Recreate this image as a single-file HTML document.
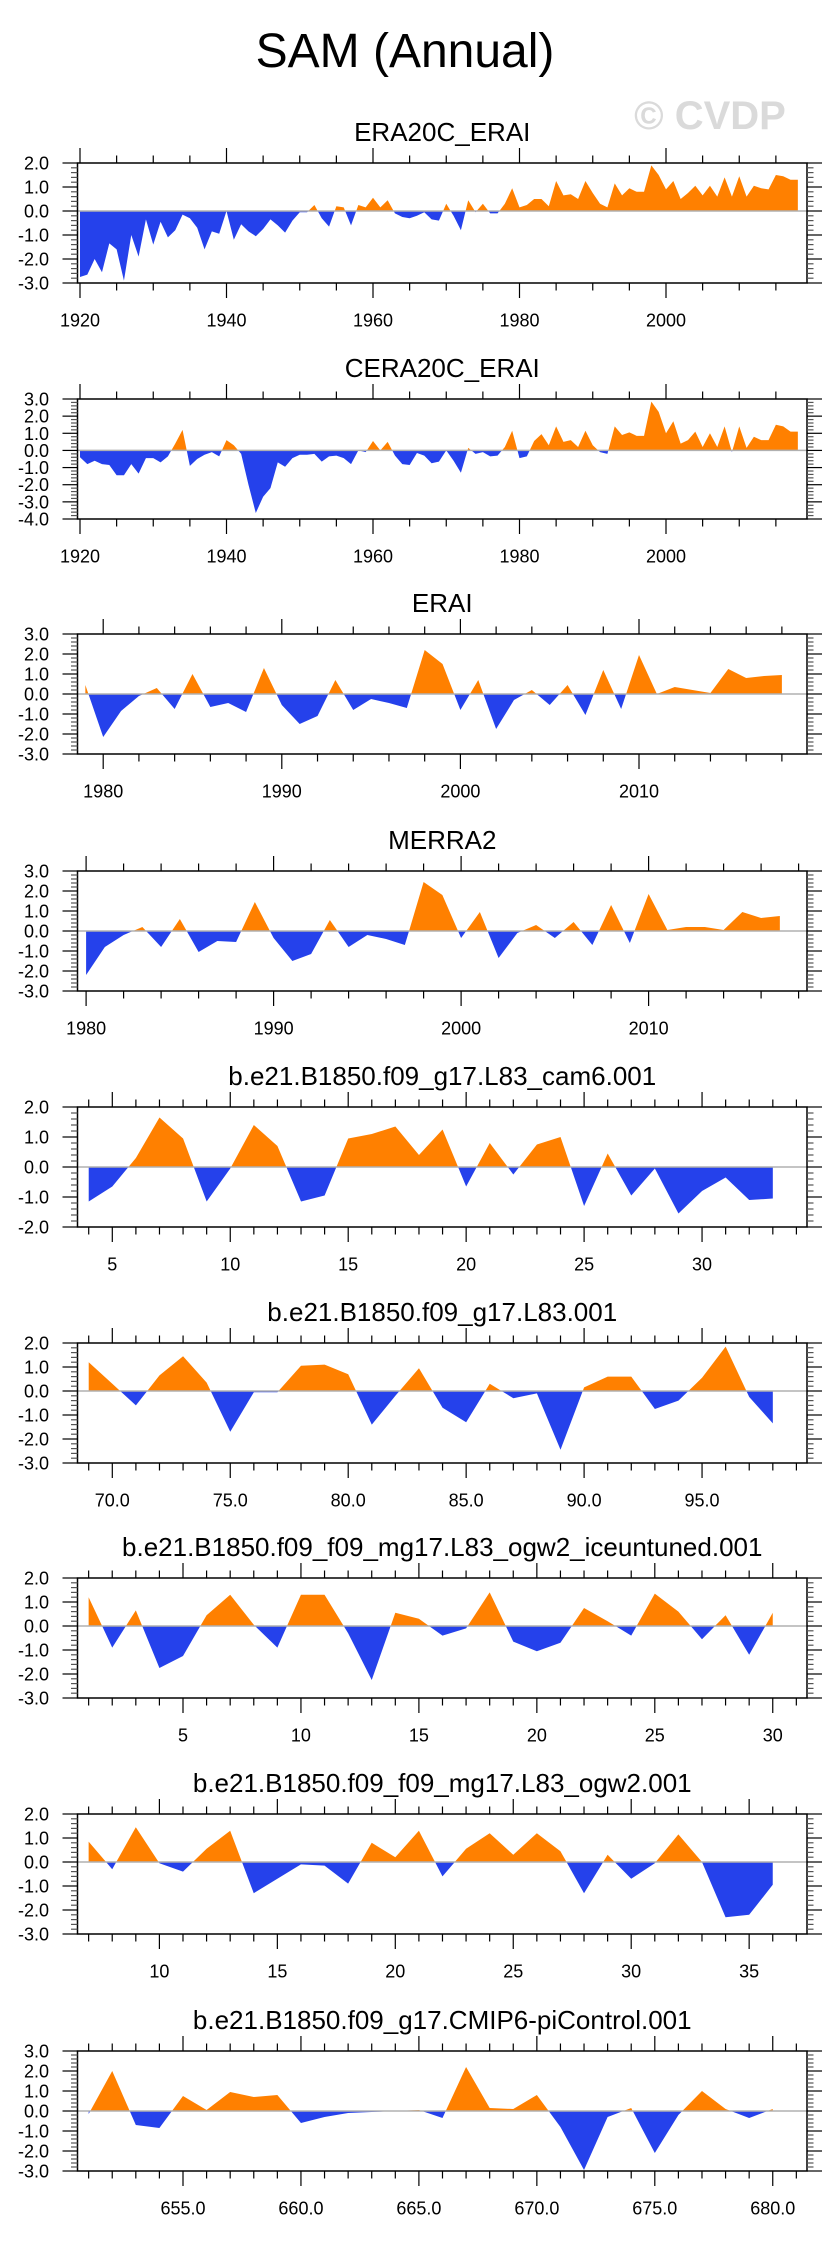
<!DOCTYPE html>
<html>
<head>
<meta charset="utf-8">
<style>
  html,body{margin:0;padding:0;background:#fff;}
  svg{display:block;font-family:"Liberation Sans",sans-serif;}
</style>
</head>
<body>
<svg id="fig" width="829" height="2245" viewBox="0 0 829 2245" xmlns="http://www.w3.org/2000/svg">
  <rect x="0" y="0" width="829" height="2245" fill="#fff"/>
  <text x="405" y="67" font-size="48" text-anchor="middle" fill="#000">SAM (Annual)</text>
  <text x="710" y="129" font-size="40" font-weight="bold" text-anchor="middle" fill="#dadada">© CVDP</text>
</svg>
<script>
// ---------------- data ----------------
const era20cStart = 1920;
const era20cValues = [-2.75,-2.65,-2.0,-2.55,-1.35,-1.6,-2.9,-1.0,-1.9,-0.35,-1.4,-0.45,-1.1,-0.8,-0.15,-0.3,-0.7,-1.6,-0.85,-0.95,
  0.0,-1.2,-0.55,-0.85,-1.05,-0.75,-0.35,-0.6,-0.9,-0.4,-0.05,-0.05,0.25,-0.3,-0.65,0.2,0.15,-0.6,0.25,0.15,
  0.55,0.15,0.45,-0.1,-0.25,-0.3,-0.2,-0.05,-0.35,-0.4,0.3,-0.2,-0.8,0.45,-0.05,0.3,-0.1,-0.1,0.3,0.95,
  0.15,0.25,0.5,0.5,0.2,1.25,0.65,0.7,0.5,1.25,0.75,0.3,0.15,1.15,0.65,0.95,0.8,0.8,1.9,1.5,
  0.9,1.25,0.5,0.75,1.05,0.65,1.05,0.6,1.4,0.6,1.45,0.6,1.05,0.95,0.9,1.5,1.45,1.3,1.3];
const cera20cStart = 1920;
const cera20cValues = [-0.4,-0.8,-0.6,-0.8,-0.85,-1.45,-1.45,-0.8,-1.35,-0.45,-0.45,-0.7,-0.35,0.4,1.2,-0.9,-0.5,-0.25,-0.1,-0.35,
  0.6,0.3,-0.2,-2.0,-3.65,-2.7,-2.2,-0.7,-0.95,-0.45,-0.25,-0.25,-0.2,-0.65,-0.35,-0.3,-0.45,-0.8,0.0,-0.1,
  0.55,0.0,0.5,-0.3,-0.8,-0.85,-0.15,-0.3,-0.75,-0.65,0.0,-0.6,-1.3,0.15,-0.2,-0.1,-0.35,-0.3,0.2,1.15,
  -0.45,-0.35,0.55,0.95,0.3,1.4,0.5,0.6,0.2,1.15,0.3,-0.1,-0.2,1.4,0.9,1.05,0.85,0.85,2.85,2.25,
  1.0,1.7,0.4,0.6,1.1,0.2,1.0,0.2,1.4,-0.1,1.4,0.15,0.8,0.6,0.6,1.5,1.4,1.1,1.1];
const eraiStart = 1979;
const eraiValues = [0.45,-2.15,-0.85,-0.1,0.3,-0.75,1.0,-0.65,-0.45,-0.9,1.3,-0.55,-1.5,-1.1,0.7,-0.8,-0.25,-0.45,-0.7,2.2,
  1.5,-0.8,0.7,-1.75,-0.3,0.2,-0.55,0.45,-1.05,1.2,-0.75,1.95,0.0,0.35,0.2,0.05,1.25,0.8,0.9,0.95];
const merra2Start = 1980;
const merra2Values = [-2.2,-0.8,-0.2,0.2,-0.8,0.6,-1.05,-0.5,-0.55,1.45,-0.35,-1.5,-1.15,0.55,-0.8,-0.2,-0.4,-0.7,2.45,1.8,
  -0.35,0.95,-1.35,-0.1,0.3,-0.35,0.45,-0.7,1.3,-0.6,1.85,0.05,0.2,0.2,0.05,0.95,0.65,0.75];
const cam6Start = 4;
const cam6Values = [-1.15,-0.65,0.3,1.65,0.95,-1.15,-0.05,1.4,0.7,-1.15,-0.95,0.95,1.1,1.35,0.4,1.25,-0.65,0.8,-0.25,0.75,
  1.0,-1.3,0.45,-0.95,-0.05,-1.55,-0.8,-0.35,-1.1,-1.05];
const l83Start = 69;
const l83Values = [1.2,0.3,-0.6,0.65,1.45,0.35,-1.7,-0.05,-0.05,1.05,1.1,0.7,-1.4,-0.2,0.95,-0.7,-1.3,0.3,-0.3,-0.1,
  -2.45,0.15,0.6,0.6,-0.75,-0.4,0.55,1.85,-0.25,-1.35];
const iceStart = 1;
const iceValues = [1.2,-0.9,0.65,-1.75,-1.25,0.45,1.3,0.05,-0.9,1.3,1.3,-0.3,-2.25,0.55,0.3,-0.4,-0.1,1.4,-0.65,-1.05,
  -0.7,0.75,0.2,-0.4,1.35,0.6,-0.55,0.45,-1.2,0.55];
const ogw2Start = 7;
const ogw2Values = [0.85,-0.3,1.45,-0.05,-0.4,0.55,1.3,-1.3,-0.7,-0.1,-0.15,-0.9,0.8,0.2,1.3,-0.6,0.55,1.2,0.3,1.2,
  0.45,-1.3,0.3,-0.7,-0.05,1.15,0.0,-2.3,-2.2,-0.95];
const cmip6Start = 651;
const cmip6Values = [-0.15,2.0,-0.7,-0.85,0.75,0.05,0.95,0.7,0.8,-0.6,-0.3,-0.1,-0.05,0.0,0.05,-0.35,2.2,0.15,0.1,0.8,
  -0.8,-2.95,-0.3,0.15,-2.1,-0.2,1.0,0.1,-0.35,0.1];

// ---------------- layout ----------------
const NS = "http://www.w3.org/2000/svg";
const svg = document.getElementById("fig");
const BOX_L = 77.5, BOX_R = 807, BOX_H = 120;
const ORANGE = "#ff8000", BLUE = "#2541eb";

const panels = [
  {id:"era20c-erai", title:"ERA20C_ERAI", vals:era20cValues, start:era20cStart, top:163, ymax:2, ymin:-3,
   x0v:1920, x0p:80, per:7.325, tmin:1920, tmax:2015, minor:5, major:20, dec:false},
  {id:"cera20c-erai", title:"CERA20C_ERAI", vals:cera20cValues, start:cera20cStart, top:399, ymax:3, ymin:-4,
   x0v:1920, x0p:80, per:7.325, tmin:1920, tmax:2015, minor:5, major:20, dec:false},
  {id:"erai", title:"ERAI", vals:eraiValues, start:eraiStart, top:634, ymax:3, ymin:-3,
   x0v:1980, x0p:103.2, per:17.86, tmin:1980, tmax:2018, minor:2, major:10, dec:false},
  {id:"merra2", title:"MERRA2", vals:merra2Values, start:merra2Start, top:871, ymax:3, ymin:-3,
   x0v:1980, x0p:86.1, per:18.75, tmin:1980, tmax:2018, minor:2, major:10, dec:false},
  {id:"cam6", title:"b.e21.B1850.f09_g17.L83_cam6.001", vals:cam6Values, start:cam6Start, top:1107, ymax:2, ymin:-2,
   x0v:5, x0p:112.3, per:23.59, tmin:4, tmax:34, minor:1, major:5, dec:false},
  {id:"l83", title:"b.e21.B1850.f09_g17.L83.001", vals:l83Values, start:l83Start, top:1343, ymax:2, ymin:-3,
   x0v:70, x0p:112.3, per:23.59, tmin:69, tmax:99, minor:1, major:5, dec:true},
  {id:"iceuntuned", title:"b.e21.B1850.f09_f09_mg17.L83_ogw2_iceuntuned.001", vals:iceValues, start:iceStart, top:1578, ymax:2, ymin:-3,
   x0v:5, x0p:183, per:23.59, tmin:1, tmax:31, minor:1, major:5, dec:false},
  {id:"ogw2", title:"b.e21.B1850.f09_f09_mg17.L83_ogw2.001", vals:ogw2Values, start:ogw2Start, top:1814, ymax:2, ymin:-3,
   x0v:10, x0p:159.4, per:23.59, tmin:7, tmax:37, minor:1, major:5, dec:false},
  {id:"cmip6", title:"b.e21.B1850.f09_g17.CMIP6-piControl.001", vals:cmip6Values, start:cmip6Start, top:2051, ymax:3, ymin:-3,
   x0v:655, x0p:183, per:23.59, tmin:651, tmax:681, minor:1, major:5, dec:true}
];

function mk(tag, attrs, parent){
  const e = document.createElementNS(NS, tag);
  for (const k in attrs) e.setAttribute(k, attrs[k]);
  (parent || svg).appendChild(e);
  return e;
}

panels.forEach((p, pi) => {
  const top = p.top, bot = top + BOX_H;
  const ys = v => top + (p.ymax - v) / (p.ymax - p.ymin) * BOX_H;
  const xs = v => p.x0p + (v - p.x0v) * p.per;
  const g = mk("g", {});
  
  

  // title
  const t = mk("text", {x:(BOX_L+BOX_R)/2, y:top-22, "font-size":26, "text-anchor":"middle", fill:"#000"}, g);
  t.textContent = p.title;
  
  

  // clip paths
  const y0 = ys(0);
  const defs = mk("defs", {}, g);
  const cpA = mk("clipPath", {id:"clipA"+pi}, defs);
  mk("rect", {x:BOX_L, y:top, width:BOX_R-BOX_L, height:y0-top}, cpA);
  const cpB = mk("clipPath", {id:"clipB"+pi}, defs);
  mk("rect", {x:BOX_L, y:y0, width:BOX_R-BOX_L, height:bot-y0}, cpB);

  // area path
  let d = "M" + xs(p.start).toFixed(2) + "," + y0.toFixed(2);
  p.vals.forEach((v, i) => { d += " L" + xs(p.start + i).toFixed(2) + "," + ys(v).toFixed(2); });
  d += " L" + xs(p.start + p.vals.length - 1).toFixed(2) + "," + y0.toFixed(2) + " Z";
  const pos = mk("path", {d:d, fill:ORANGE, "clip-path":"url(#clipA"+pi+")"}, g);
  
  
  const neg = mk("path", {d:d, fill:BLUE, "clip-path":"url(#clipB"+pi+")"}, g);
  
  

  // zero line
  const zl = mk("line", {x1:BOX_L, x2:BOX_R, y1:y0, y2:y0, stroke:"#b0b0b0", "stroke-width":1.5}, g);
  
  

  // box
  const box = mk("rect", {x:BOX_L, y:top, width:BOX_R-BOX_L, height:BOX_H, fill:"none", stroke:"#000", "stroke-width":1.5}, g);
  
  

  // x ticks
  for (let v = p.tmin; v <= p.tmax; v += p.minor) {
    const x = xs(v);
    const isMaj = (v % p.major) === 0;
    const L = isMaj ? 15 : 7.5;
    mk("line", {x1:x, x2:x, y1:top, y2:top-L, stroke:"#000", "stroke-width":1.2}, g);
    mk("line", {x1:x, x2:x, y1:bot, y2:bot+L, stroke:"#000", "stroke-width":1.2}, g);
    if (isMaj) {
      const lab = mk("text", {x:x, y:bot+43.5, "font-size":18, "text-anchor":"middle", fill:"#000"}, g);
      lab.textContent = p.dec ? v.toFixed(1) : String(v);
      
      
    }
  }

  // y ticks
  for (let k = Math.round(p.ymin*5); k <= Math.round(p.ymax*5); k++) {
    const v = k / 5, y = ys(v);
    const isMaj = (k % 5) === 0;
    const L = isMaj ? 15 : 6.5;
    mk("line", {x1:BOX_L, x2:BOX_L-L, y1:y, y2:y, stroke: isMaj ? "#000" : "#555", "stroke-width":1.2}, g);
    mk("line", {x1:BOX_R, x2:BOX_R+L, y1:y, y2:y, stroke: isMaj ? "#000" : "#555", "stroke-width":1.2}, g);
    if (isMaj) {
      const lab = mk("text", {x:49, y:y+6.5, "font-size":18, "text-anchor":"end", fill:"#000"}, g);
      lab.textContent = v.toFixed(1);
      
      
    }
  }
});
</script>
</body>
</html>
